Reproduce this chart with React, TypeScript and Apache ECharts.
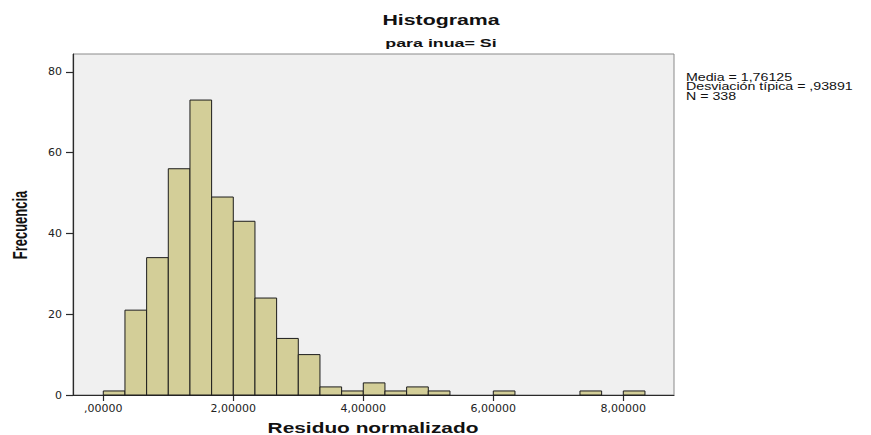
import React, { useEffect, useRef } from "react";
import * as echarts from "echarts";

// Histogram bins (lower edge, width 1/3) and counts
const binStarts = [
  0.0, 0.3333, 0.6667, 1.0, 1.3333, 1.6667, 2.0, 2.3333, 2.6667, 3.0, 3.3333, 3.6667,
  4.0, 4.3333, 4.6667, 5.0, 5.3333, 5.6667, 6.0, 6.3333, 6.6667, 7.0, 7.3333, 7.6667, 8.0,
];
const binWidth = 0.3333;
const counts = [
  1, 21, 34, 56, 73, 49, 43, 24, 14, 10, 2, 1, 3, 1, 2, 1, 0, 0, 1, 0, 0, 0, 1, 0, 1,
];

const xTickValues = [0, 2, 4, 6, 8];
const xTickLabels = [",00000", "2,00000", "4,00000", "6,00000", "8,00000"];
const yTickValues = [0, 20, 40, 60, 80];

const titleText = "Histograma";
const subtitleText = "para inua= Si";
const xAxisName = "Residuo normalizado";
const yAxisName = "Frecuencia";
const statsLines = ["Media = 1,76125", "Desviación típica = ,93891", "N = 338"];

export default function App() {
  const ref = useRef<HTMLDivElement>(null);

  useEffect(() => {
    if (!ref.current) return;
    const chart = echarts.init(ref.current, null, { renderer: "svg" });

    const data = binStarts
      .map((s, i) => [s, s + binWidth, counts[i]])
      .filter((d) => d[2] > 0);

    const sans = "'Liberation Sans', Arial, sans-serif";

    chart.setOption({
      animation: false,
      backgroundColor: "#ffffff",
      grid: {
        left: 73,
        top: 54,
        right: 197,
        bottom: 40,
        show: true,
        backgroundColor: "#f0f0f0",
        borderColor: "#8a8a8a",
        borderWidth: 1,
      },
      xAxis: {
        type: "value",
        min: -0.466,
        max: 8.78,
        axisLine: { show: true, onZero: false, lineStyle: { color: "#2a2a2a", width: 1.2 } },
        axisTick: {
          show: true,
          length: 6,
          customValues: xTickValues,
          lineStyle: { color: "#2a2a2a", width: 1.2 },
        },
        axisLabel: {
          customValues: xTickValues,
          margin: 8,
          fontFamily: "'DejaVu Sans', sans-serif",
          fontSize: 11,
          color: "#222",
          formatter: (v: number) => {
            const i = xTickValues.indexOf(Math.round(v));
            return i >= 0 ? xTickLabels[i] : "";
          },
        },
        splitLine: { show: false },
      },
      yAxis: {
        type: "value",
        min: 0,
        max: 84.4,
        axisLine: { show: true, onZero: false, lineStyle: { color: "#2a2a2a", width: 1.2 } },
        axisTick: {
          show: true,
          length: 7,
          customValues: yTickValues,
          lineStyle: { color: "#2a2a2a", width: 1.2 },
        },
        axisLabel: {
          customValues: yTickValues,
          margin: 11,
          fontFamily: "'DejaVu Sans', sans-serif",
          fontSize: 11,
          color: "#222",
        },
        splitLine: { show: false },
      },
      series: [
        {
          type: "custom",
          data,
          encode: { x: [0, 1], y: 2 },
          renderItem: (params: any, api: any) => {
            const p0 = api.coord([api.value(0), api.value(2)]);
            const p1 = api.coord([api.value(1), 0]);
            return {
              type: "rect",
              shape: { x: p0[0], y: p0[1], width: p1[0] - p0[0], height: p1[1] - p0[1] },
              style: { fill: "#d3ce98", stroke: "#1c1c1c", lineWidth: 1 },
            };
          },
        },
      ],
      graphic: [
        {
          type: "text",
          x: 441,
          y: 20,
          scaleX: 1.42,
          style: {
            text: titleText,
            fontFamily: sans,
            fontWeight: "bold",
            fontSize: 15,
            fill: "#111",
            align: "center",
            verticalAlign: "middle",
          },
        },
        {
          type: "text",
          x: 441,
          y: 42.5,
          scaleX: 1.55,
          style: {
            text: subtitleText,
            fontFamily: sans,
            fontWeight: "bold",
            fontSize: 11.5,
            fill: "#111",
            align: "center",
            verticalAlign: "middle",
          },
        },
        {
          type: "text",
          x: 373,
          y: 428,
          scaleX: 1.39,
          style: {
            text: xAxisName,
            fontFamily: sans,
            fontWeight: "bold",
            fontSize: 15,
            fill: "#111",
            align: "center",
            verticalAlign: "middle",
          },
        },
        {
          type: "text",
          x: 20,
          y: 225,
          rotation: Math.PI / 2,
          scaleY: 1.6,
          style: {
            text: yAxisName,
            fontFamily: sans,
            fontWeight: "bold",
            fontSize: 13,
            fill: "#111",
            align: "center",
            verticalAlign: "middle",
          },
        },
        ...statsLines.map((t, i) => ({
          type: "text",
          x: 686,
          y: 77.5 + i * 9.7,
          scaleX: 1.42,
          style: {
            text: t,
            fontFamily: sans,
            fontSize: 10,
            fill: "#111",
            align: "left",
            verticalAlign: "middle",
          },
        })),
      ],
    });

    return () => chart.dispose();
  }, []);

  return <div ref={ref} style={{ width: 871, height: 435, position: "absolute", left: 0, top: 0 }} />;
}
